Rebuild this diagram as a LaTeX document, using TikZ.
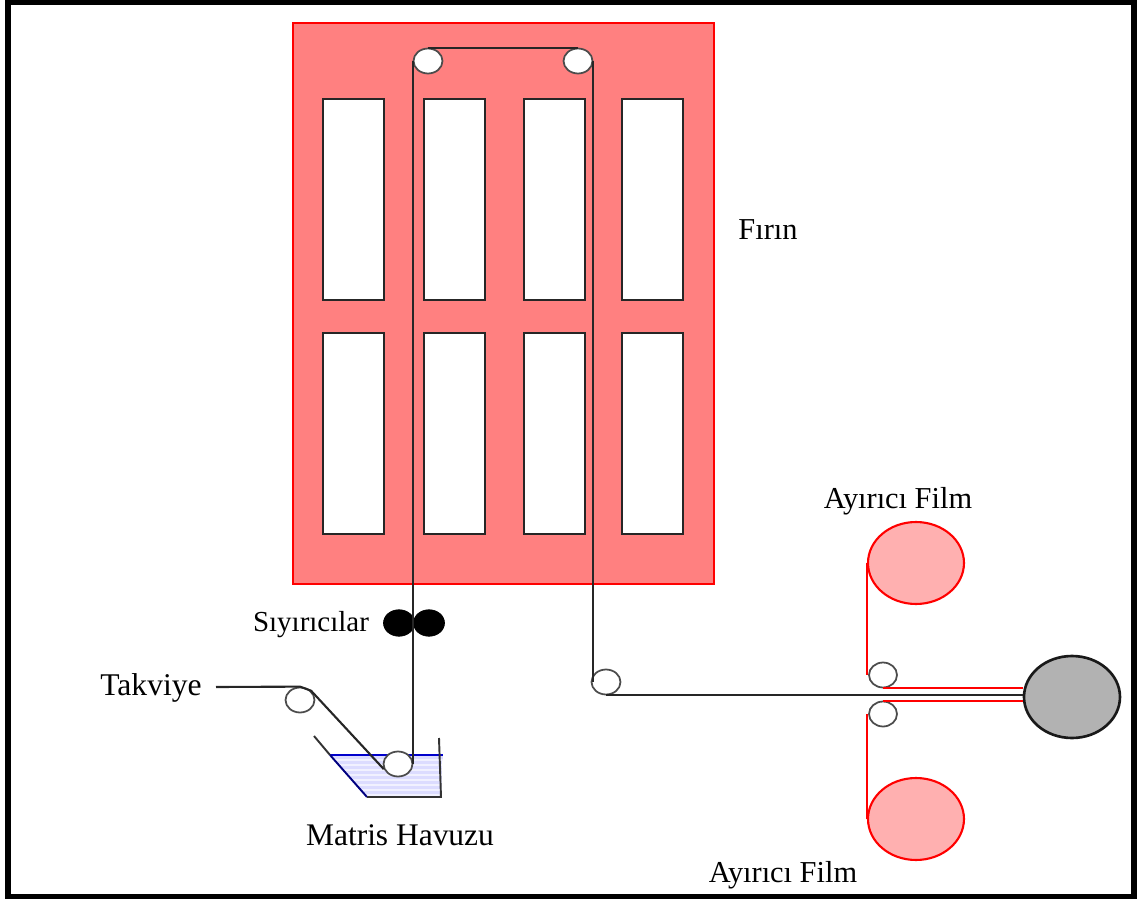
\documentclass[tikz,border=0pt]{standalone}
\usepackage{fontspec}
\setmainfont{Liberation Serif}
\usetikzlibrary{shapes.geometric}
\definecolor{firin}{HTML}{FF8080}
\definecolor{filmfill}{HTML}{FFB0B0}
\definecolor{matris}{HTML}{DCDCFF}
\tikzset{
	window/.style={draw=black!85, fill=white, line width=1.1pt},
	label/.style={font=\fontsize{17.3}{19}\selectfont, inner sep=0pt},
	roller/.style={ellipse, draw=black!70, fill=white, line width=1pt, inner sep=0pt, minimum width=0.58cm, minimum height=0.5cm},
	scraper/.style={ellipse, draw=black, fill=black, inner sep=0pt, minimum width=0.62cm, minimum height=0.53cm},
	reel/.style={ellipse, draw=red, fill=filmfill, line width=1.2pt, inner sep=0pt, minimum width=1.92cm, minimum height=1.64cm},
	strand/.style={draw=black!85, line width=1.2pt},
	film/.style={draw=red, line width=1.1pt}
}
\begin{document}
\begin{tikzpicture}[x=0.02cm, y=-0.02cm]
			\useasboundingbox (0,0) rectangle (1137,899);
			\draw[line width=0.115cm] (8,2.5) rectangle (1134,896.5);

			\draw[draw=red, fill=firin, thick] (293,23) rectangle (714,584);
			\foreach \wx/\wy in {323/99, 424/99, 524/99, 622/99, 323/333, 424/333, 524/333, 622/333} {
				\draw[window] (\wx,\wy) rectangle ++(61,201);
			}

			\begin{scope}
				\clip (330,755) -- (443,755) -- (441,797) -- (367,797) -- cycle;
				\fill[matris] (330,755) rectangle (443,797);
				\foreach \wy in {760,765,...,795} {
					\draw[white!60!matris, line width=0.8pt] (330,\wy) -- (443,\wy);
				}
			\end{scope}
			\draw[blue!80!black, line width=1pt] (330,755) -- (443,755);
			\draw[black!80, line width=1.1pt] (314,736) -- (330,755);
			\draw[blue!50!black, line width=1.1pt] (330,755) -- (367,797);
			\draw[black!80, line width=1.1pt] (367,797) -- (441,797) -- (439,738);

			\node[scraper] (s1) at (399,623) {};
			\node[scraper] (s2) at (429,623) {};

			\coordinate (feed) at (216,687);
			\node[ellipse, draw=black!90, fill=black!30, line width=1.5pt, inner sep=0pt, minimum width=1.92cm, minimum height=1.64cm] (wind) at (1072,697) {};
			\node[roller] (takv) at (300,700) {};
			\node[roller] (dip) at (398,764) {};
			\node[roller] (top1) at (428,61) {};
			\node[roller] (top2) at (578,61) {};
			\node[roller] (ret) at (606,682) {};
			\node[roller, minimum width=0.56cm] (nipu) at (883,675) {};
			\node[roller, minimum width=0.56cm] (nipl) at (883,714) {};

			\node[reel] (film1) at (916,563) {};
			\node[reel] (film2) at (916,819) {};

			\draw[strand] (feed) -- (takv.north) -- (takv.40) -- (dip.200);
			\draw[strand] (dip.east) -- (dip.east |- top1.west);
			\draw[strand] (top1.north) -- (top2.north);
			\draw[strand] (top2.east) -- (top2.east |- ret.west);
			\draw[film] (film1.west) -- (film1.west |- nipu.west);
			\draw[film] (film2.west) -- (film2.west |- nipl.west);
			\draw[film] (nipu.south) -- (wind.west |- nipu.south);
			\draw[film] (nipl.north) -- (wind.west |- nipl.north);
			\draw[strand] (ret.south) -- (wind.west |- ret.south);

			\node[label] (l1) at (768,230) {Fırın};
			\node[label] (l2) at (898,501) {Ayırıcı Film};
			\node[label] (l3) at (783,875) {Ayırıcı Film};
			\node[label, font=\fontsize{16.5}{18}\selectfont] (l4) at (311,625) {Sıyırıcılar};
			\node[label, font=\fontsize{18}{20}\selectfont] (l5) at (151,688) {Takviye};
			\node[label, font=\fontsize{17.9}{20}\selectfont] (l6) at (400,835) {Matris Havuzu};
		\end{tikzpicture}
\end{document}
